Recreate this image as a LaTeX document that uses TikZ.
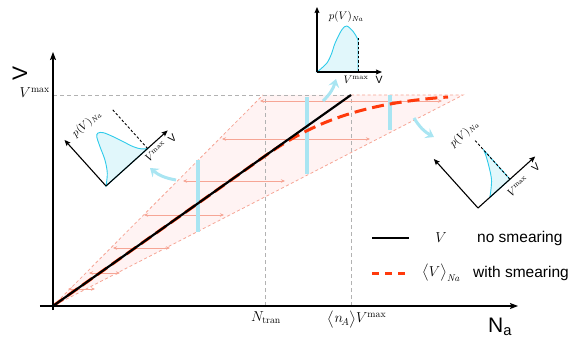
\documentclass[tikz,border=0pt]{standalone}
\usepackage{amsmath}
\usepackage{fontspec}
\setsansfont{Liberation Sans}
\usepackage{tikz}
\usetikzlibrary{arrows.meta}
\definecolor{smearpink}{HTML}{F6A595}
\definecolor{smearfill}{HTML}{FFF3F3}
\definecolor{smearred}{HTML}{FF3A0C}
\definecolor{barcyan}{HTML}{A9E5F2}
\definecolor{distcyan}{HTML}{2FCBEA}
\definecolor{distfill}{HTML}{E1F7FB}
\definecolor{guidegray}{HTML}{B2B2B2}

\begin{document}
\begin{tikzpicture}[x=10pt,y=10pt,
    guide/.style={guidegray, line width=0.8pt, dash pattern=on 4pt off 3pt},
    edge/.style={smearpink, line width=0.8pt, dash pattern=on 3pt off 2.5pt},
    spread/.style={smearpink, line width=0.8pt, {Stealth[length=4pt,width=3.5pt]}-{Stealth[length=4pt,width=3.5pt]}},
    bar/.style={barcyan, line width=4pt},
    hint/.style={barcyan, line width=3pt, -{Stealth[length=8pt,width=11pt,inset=3pt]}},
    noshift/.style={black, line width=2.2pt},
    withshift/.style={smearred, line width=3pt, dash pattern=on 12pt off 6pt},
    mainax/.style={black, line width=1.1pt, -{Stealth[length=8pt,width=6pt,inset=1.5pt]}},
    inax/.style={black, line width=1.1pt, -{Stealth[length=6pt,width=5pt,inset=1pt]}},
    cut/.style={black, line width=0.9pt, dash pattern=on 2.5pt off 2pt},
    dist/.style={distcyan, line width=0.9pt, fill=distfill},
    lab/.style={font=\fontsize{14}{16}\selectfont, inner sep=0pt},
    small/.style={font=\fontsize{10.5}{12}\selectfont, inner sep=0pt},
    key/.style={font=\fontsize{15.5}{18}\selectfont\sffamily, anchor=west, inner sep=0pt},
    big/.style={font=\fontsize{21}{24}\selectfont\sffamily, inner sep=0pt}]
  \useasboundingbox (-5.3,-3.7) rectangle (52.8,30.6);
  \coordinate (O) at (0,0);
  \coordinate (vtop) at (0,21.1);
  \coordinate (tran) at (21.2,0);
  \coordinate (nmax) at (29.8,0);
  \coordinate (turn) at (21.0,21.1);
  \coordinate (tip) at (41.0,21.1);
  % smearing band
  \fill[smearfill] (O) -- (turn) -- (tip) -- cycle;
  \draw[edge] (O) -- (turn);
  \draw[edge] (29.8,21.1) -- (tip) -- (O);
  \draw[guide] (vtop) -- (29.8,21.1);
  \draw[guide] (tran) -- (21.2,21.1);
  \draw[guide] (nmax) -- (29.8,21.1);
  \foreach \y/\a/\b in {20.5/20.7/38.9, 16.7/16.9/31.7, 12.5/13.0/23.2, 9.1/9.1/17.1,
                        5.8/6.0/11.7, 3.3/3.6/6.7, 1.7/1.5/4.2}
    \draw[spread] (\a,\y) -- (\b,\y);
  \foreach \x/\lo/\hi in {14.5/7.4/14.6, 25.4/13.2/20.9, 33.7/17.6/21.1}
    \draw[bar] (\x,\lo) -- (\x,\hi);
  \draw[withshift] (O) -- (21.2,15.0) .. controls (26,18.4) and (31,20.3) .. (39.5,20.9);
  \draw[noshift] (O) -- (29.8,21.1);

  \draw[mainax] (-1.3,0) -- (46.5,0);
  \draw[mainax] (0,-0.4) -- (0,25.4);
  \node[big, rotate=90] (ylab) at (-3.3,23.3) {V};
  \node[big] (xlab) at (44.7,-2.1) {N\textsubscript{a}};
  \node[lab, anchor=east] (vmaxlab) at (-0.3,21.3) {$V^{\mathrm{max}}$};
  \node[lab, anchor=north] (tranlab) at (21.3,-0.55) {$N_{\mathrm{tran}}$};
  \node[lab, anchor=north] (nmaxlab) at (30.4,-0.45) {$\big\langle n_{\!A}\big\rangle V^{\mathrm{max}}$};

  % legend
  \draw[noshift] (31.9,6.8) -- (35.6,6.8);
  \node[lab] (keyv) at (38.8,6.8) {$V$};
  \node[key] (keyno) at (42.4,6.8) {no smearing};
  \draw[withshift, dash pattern=on 7pt off 6pt] (31.9,3.3) -- (35.6,3.3);
  \node[lab] (keyvn) at (38.8,3.3) {$\big\langle V\big\rangle_{\mathit{Na}}$};
  \node[key] (keywith) at (42.0,3.3) {with smearing};

  % distributions
  \begin{scope}[shift={(5.3,12.0)}, rotate=42]
    \filldraw[dist] plot[smooth, tension=0.55] coordinates {(0,0) (0.95,0.86) (1.66,2.0) (2.18,3.32)
      (2.61,4.28) (2.95,4.47) (3.37,4.14) (3.84,3.17) (4.25,2.13) (4.66,1.09) (5.1,0.4) (5.6,0)} -- cycle;
    \draw[cut] (5.6,0) -- (5.6,5.3);
    \draw[inax] (0,0) -- (8.3,0);
    \draw[inax] (0,0) -- (0,6.2);
    \node[small, rotate=42] (leftp) at (2.7,5.9) {$p(V)_{\mathit{Na}}$};
    \node[small, rotate=42] (leftvmax) at (6.0,-0.8) {$V^{\mathrm{max}}$};
    \node[small, rotate=42] (leftv) at (8.1,-0.9) {\sffamily V};
  \end{scope}
  \begin{scope}[shift={(26.4,23.4)}]
    \filldraw[dist] plot[smooth, tension=0.55] coordinates {(0,0) (0.97,0.87) (1.47,1.87) (1.8,2.87)
      (2.47,4.2) (2.97,4.6) (3.63,4.03) (4.03,3.37) (4.1,3.2)} -- (4.1,0) -- cycle;
    \draw[cut] (4.1,0) -- (4.1,3.4);
    \draw[inax] (0,0) -- (6.5,0);
    \draw[inax] (0,0) -- (0,6.5);
    \node[small] (topp) at (2.9,5.5) {$p(V)_{\mathit{Na}}$};
    \node[small] (topvmax) at (3.9,-0.8) {$V^{\mathrm{max}}$};
    \node[small] (topv) at (6.2,-0.8) {\sffamily V};
  \end{scope}
  \begin{scope}[shift={(42.5,9.8)}, rotate=42]
    \filldraw[dist] plot[smooth] coordinates {(1.6,0) (2.9,1.2) (3.9,2.95) (4.3,3.9)} -- (4.3,0) -- cycle;
    \draw[cut] (4.3,0) -- (4.3,5.4);
    \draw[inax] (0,0) -- (7.7,0);
    \draw[inax] (0,0) -- (0,6.6);
    \node[small, rotate=42] (rightp) at (3.9,6.4) {$p(V)_{\mathit{Na}}$};
    \node[small, rotate=42] (rightvmax) at (4.4,-1.1) {$V^{\mathrm{max}}$};
    \node[small, rotate=42] (rightv) at (7.0,-0.85) {\sffamily V};
  \end{scope}

  \coordinate (hl0) at (12.3,12.6);
  \coordinate (hl1) at (9.7,13.8);
  \coordinate (ht0) at (27.0,20.5);
  \coordinate (ht1) at (28.3,22.7);
  \coordinate (hr0) at (36.1,18.8);
  \coordinate (hr1) at (38.1,16.9);
  \draw[hint] (hl0) to[bend left=15] (hl1);
  \draw[hint] (ht0) to[bend right=15] (ht1);
  \draw[hint] (hr0) to[bend right=15] (hr1);
\end{tikzpicture}
\end{document}
